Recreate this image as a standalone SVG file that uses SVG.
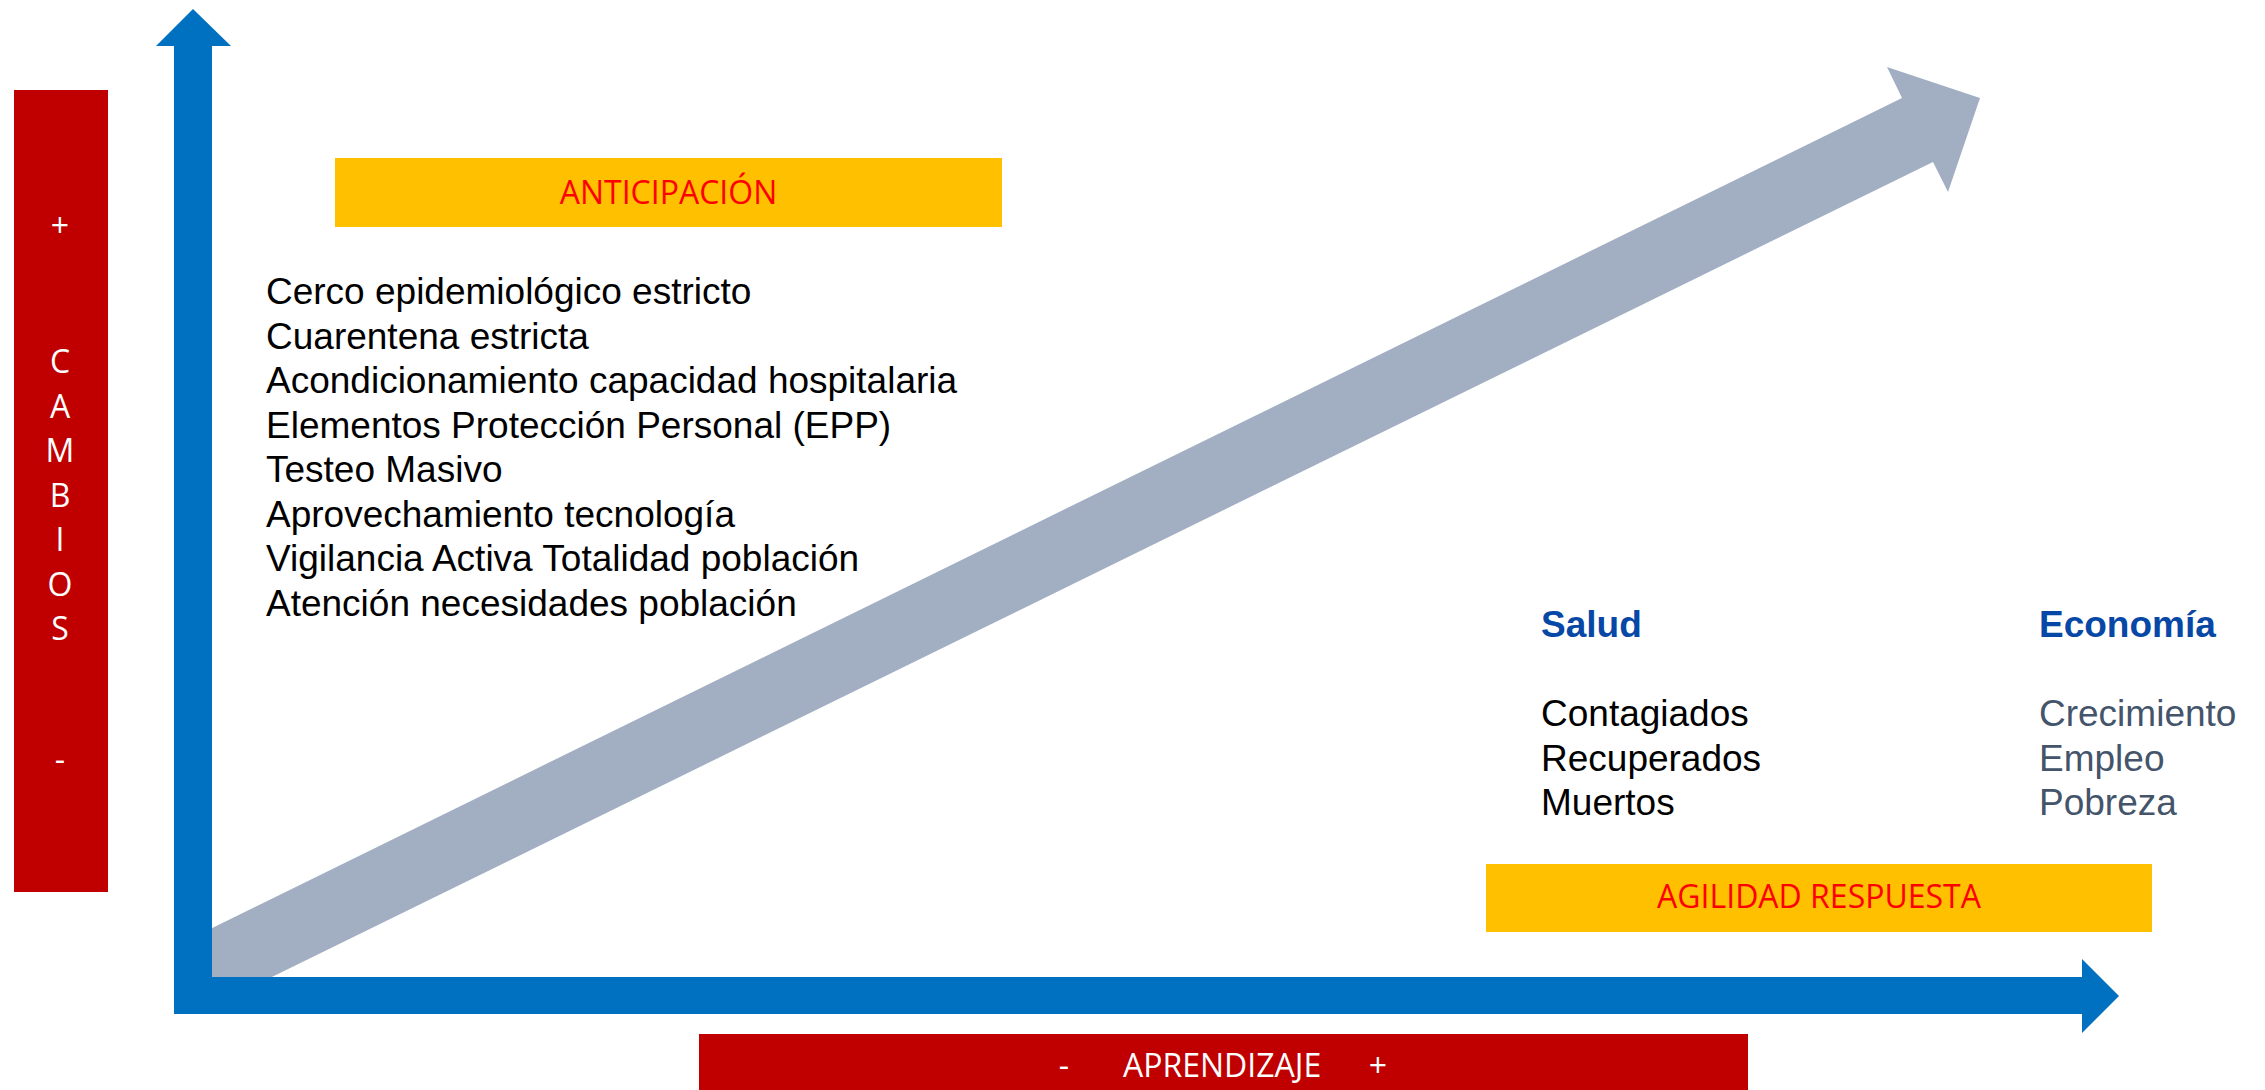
<svg xmlns="http://www.w3.org/2000/svg" width="2265" height="1090" viewBox="0 0 2265 1090">
  <style>
    .bar { fill: #C00000; }
    .band { fill: #FFC000; }
    .axis { fill: #0070C0; }
    .cal { font-family: "Open Sans", "Liberation Sans", sans-serif; font-size: 32px; }
    .white { fill: #FFFFFF; }
    .redtxt { fill: #FF0000; }
    .body { font-family: "Liberation Sans", Arial, sans-serif; font-size: 37px; fill: #000000; }
    .head { font-family: "Liberation Sans", Arial, sans-serif; font-size: 37px; font-weight: bold; fill: #0747A6; }
    .eco { font-family: "Liberation Sans", Arial, sans-serif; font-size: 37px; fill: #44546A; }
  </style>
  <rect width="2265" height="1090" fill="#FFFFFF"/>

  <!-- diagonal progress arrow -->
  <g id="progress-arrow">
    <polygon fill="#A2AFC3" points="176,945.7 1902,98 1887,67 1980,98 1948,192 1933,162 225,1000 176,1000"/>
  </g>

  <!-- axes -->
  <g id="connectors">
    <polygon class="axis" points="174,1014 174,46 156,46 193,9 231,46 212,46 212,977 2082,977 2082,959 2119,996 2082,1033 2082,1014"/>
  </g>

  <g id="cambios">
    <rect class="bar" x="14" y="90" width="94" height="802"/>
    <g class="cal white" text-anchor="middle">
      <text x="60" y="237">+</text>
      <text x="60" y="373">C</text>
      <text x="60" y="418">A</text>
      <text x="60" y="462">M</text>
      <text x="60" y="507">B</text>
      <text x="60" y="551">I</text>
      <text x="60" y="596">O</text>
      <text x="60" y="640">S</text>
      <text x="60" y="771">-</text>
    </g>
  </g>

  <g id="anticipacion">
    <rect class="band" x="335" y="158" width="667" height="69"/>
    <text class="cal redtxt" x="668.5" y="204" text-anchor="middle">ANTICIPACIÓN</text>
  </g>

  <g id="medidas" class="body">
    <text x="266" y="304">Cerco epidemiológico estricto</text>
    <text x="266" y="348.5">Cuarentena estricta</text>
    <text x="266" y="393">Acondicionamiento capacidad hospitalaria</text>
    <text x="266" y="437.5">Elementos Protección Personal (EPP)</text>
    <text x="266" y="482">Testeo Masivo</text>
    <text x="266" y="526.5">Aprovechamiento tecnología</text>
    <text x="266" y="571">Vigilancia Activa Totalidad población</text>
    <text x="266" y="615.5">Atención necesidades población</text>
  </g>

  <g id="salud">
    <text class="head" x="1541" y="637">Salud</text>
    <text class="body" x="1541" y="726">Contagiados</text>
    <text class="body" x="1541" y="770.5">Recuperados</text>
    <text class="body" x="1541" y="815">Muertos</text>
  </g>

  <g id="economia">
    <text class="head" x="2039" y="637">Economía</text>
    <text class="eco" x="2039" y="726">Crecimiento</text>
    <text class="eco" x="2039" y="770.5">Empleo</text>
    <text class="eco" x="2039" y="815">Pobreza</text>
  </g>

  <g id="agilidad">
    <rect class="band" x="1486" y="864" width="666" height="68"/>
    <text class="cal redtxt" x="1819" y="908" text-anchor="middle">AGILIDAD RESPUESTA</text>
  </g>

  <g id="aprendizaje">
    <rect class="bar" x="699" y="1034" width="1049" height="56"/>
    <g class="cal white">
      <text x="1064" y="1077" text-anchor="middle">-</text>
      <text x="1123" y="1077">APRENDIZAJE</text>
      <text x="1378" y="1077" text-anchor="middle">+</text>
    </g>
  </g>
</svg>
